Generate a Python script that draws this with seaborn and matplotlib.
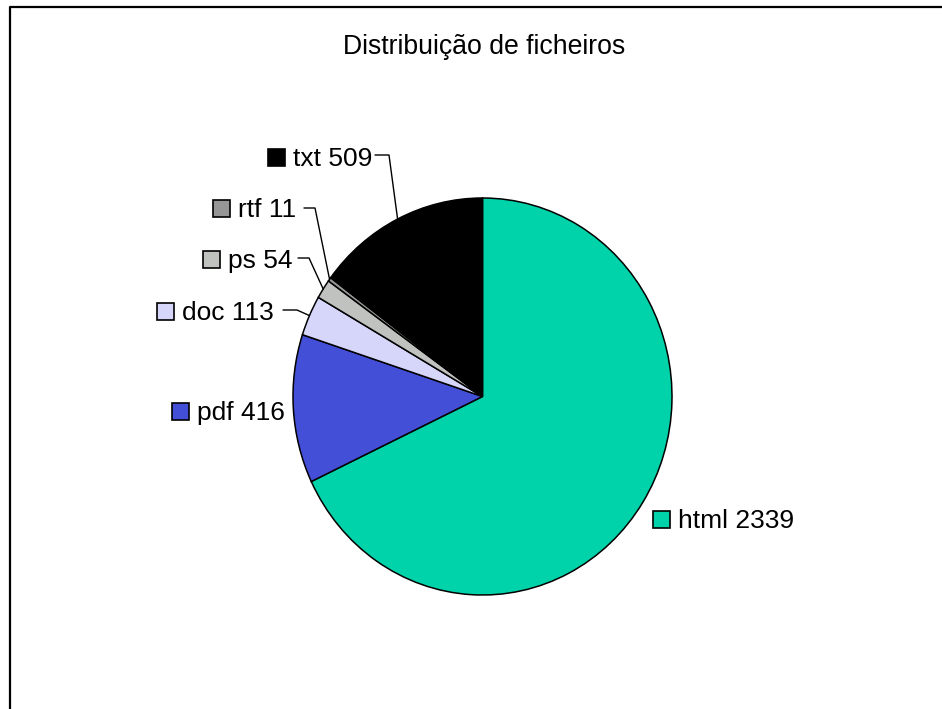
import matplotlib
matplotlib.use("Agg")
import matplotlib.pyplot as plt
from matplotlib.patches import Rectangle
import numpy as np
import seaborn as sns

# ---- data ----
categories = ["html", "pdf", "doc", "ps", "rtf", "txt"]
counts = [2339, 416, 113, 54, 11, 509]
title = "Distribuição de ficheiros"
colors = sns.color_palette(["#00D2AA", "#444FD8", "#D6D6FA", "#C0C2C0", "#969696", "#000000"])

sns.set_theme(style="white")
plt.rcParams["font.family"] = ["Liberation Sans", "DejaVu Sans"]
plt.rcParams["text.color"] = "black"

W, H = 942, 709
fig = plt.figure(figsize=(W / 100, H / 100), dpi=100)
fig.patch.set_facecolor("white")

# pie axes (pixel box of the ellipse)
px0, px1, py0, py1 = 293, 672, 198, 595
axp = fig.add_axes([px0 / W, (H - py1) / H, (px1 - px0) / W, (py1 - py0) / H])
wedges, _ = axp.pie(counts, colors=colors, startangle=90, counterclock=False,
                    wedgeprops=dict(edgecolor="black", linewidth=1.1))
axp.set_aspect("auto")
axp.set_xlim(-1, 1)
axp.set_ylim(-1, 1)
axp.axis("off")

# overlay axes in pixel coordinates
axo = fig.add_axes([0, 0, 1, 1], zorder=5)
axo.set_xlim(0, W)
axo.set_ylim(H, 0)
axo.axis("off")
axo.patch.set_alpha(0)

# frame
axo.plot([10, 10, W + 5], [H + 5, 7, 7], color="black", lw=1.6, solid_capstyle="butt")

axo.text(484.5, 47, title, ha="center", va="center", fontsize=19.2, color="black")

# label layout: (square left x, baseline y, leader start x, knee x, knee y)
layout = {
    "txt": (268, 166, 375, 389, 155),
    "rtf": (213, 217, 304, 315, 208),
    "ps": (203, 268, 298, 309, 258),
    "doc": (157, 320, 283, 297, 310),
    "pdf": (172, 420, None, None, None),
    "html": (653, 528, None, None, None),
}

def to_px(x, y):
    d = axp.transData.transform((x, y))
    return axo.transData.inverted().transform(d)

for w, cat, val, col in zip(wedges, categories, counts, colors):
    sx, base, lx0, lkx, lky = layout[cat]
    axo.add_patch(Rectangle((sx, base - 17), 17, 17, facecolor=col,
                            edgecolor="black", lw=1.2))
    axo.text(sx + 25, base, f"{cat} {val}", ha="left", va="baseline",
             fontsize=19, color="black")
    if lx0 is not None:
        mid = np.deg2rad((w.theta1 + w.theta2) / 2)
        ax_, ay_ = to_px(np.cos(mid), np.sin(mid))
        axo.plot([lx0, lkx, ax_], [lky, lky, ay_], color="black", lw=1.0)

fig.savefig("out.png", dpi=100, facecolor="white")
